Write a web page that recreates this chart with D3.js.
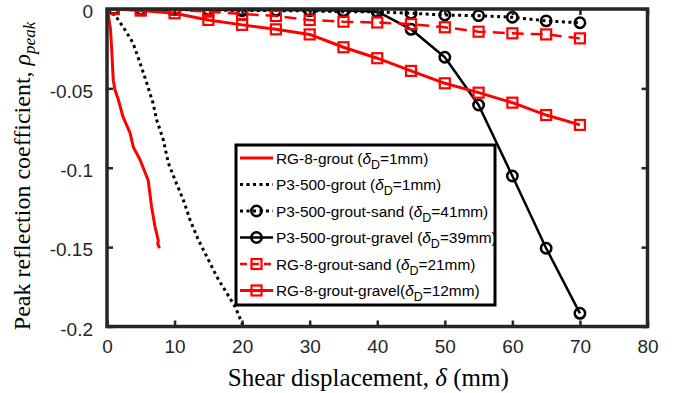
<!DOCTYPE html>
<html>
<head>
<meta charset="utf-8">
<script src="https://cdn.jsdelivr.net/npm/d3@7"></script>
<style>
  body { margin: 0; background: #fff; }
  svg { display: block; }
</style>
</head>
<body>
<script>
// shear displacement (mm) where the markers sit
var shearSteps = [1, 5, 10, 15, 20, 25, 30, 35, 40, 45, 50, 55, 60, 65, 70];

var p3SandRho   = [0, 0, -0.0005, -0.0005, -0.001, -0.001, -0.0012, -0.0017, -0.0018, -0.0027, -0.0038, -0.0042, -0.0052, -0.0075, -0.0087];
var p3GravelRho = [0, -0.0004, -0.0004, -0.0005, -0.0006, -0.0007, -0.0008, -0.001, -0.0015, -0.0128, -0.0304, -0.0605, -0.1052, -0.1507, -0.1917];
var rgSandRho   = [0, -0.0002, -0.0005, -0.0017, -0.0031, -0.0044, -0.0069, -0.008, -0.0085, -0.0095, -0.0115, -0.0143, -0.0153, -0.016, -0.0185];
var rgGravelRho = [0, -0.001, -0.0027, -0.0069, -0.010, -0.0128, -0.016, -0.0241, -0.031, -0.039, -0.0468, -0.0527, -0.059, -0.0668, -0.073];

// continuous curves without markers
var rgGroutShear = [0, 0.15, 0.52, 0.7, 0.93, 1.19, 1.67, 2.37, 3.41, 3.9, 4.89, 6.1, 6.6, 7.1, 7.6, 7.5, 7.75];
var rgGroutRho   = [0, -0.0025, -0.013, -0.026, -0.045, -0.051, -0.057, -0.068, -0.078, -0.087, -0.095, -0.108, -0.1245, -0.137, -0.146, -0.1475, -0.1507];

var p3GroutShear = [0, 1.19, 2.67, 3.85, 4.89, 5.88, 6.81, 7.36, 8.34, 9.08, 10.07, 11.3, 12.3, 13.53, 14.77, 16.25, 17.73, 18.96, 20.2];
var p3GroutRho   = [0, -0.0038, -0.0132, -0.0214, -0.034, -0.0466, -0.0592, -0.0699, -0.0825, -0.097, -0.1077, -0.1203, -0.1329, -0.1455, -0.156, -0.1686, -0.179, -0.1875, -0.2001];

var legendNames = ["RG-8-grout ", "P3-500-grout ", "P3-500-grout-sand ", "P3-500-grout-gravel ", "RG-8-grout-sand ", "RG-8-grout-gravel"];
var legendDepth = ["1mm", "1mm", "41mm", "39mm", "21mm", "12mm"];

var xTicks = [0, 10, 20, 30, 40, 50, 60, 70, 80];
var yTicks = [0, -0.05, -0.1, -0.15, -0.2];

var W = 687, H = 393;
var margin = {top: 9, right: 39.5, bottom: 66.5, left: 107};
var w = W - margin.left - margin.right,
    h = H - margin.top - margin.bottom;

var frameColor = "#262626";

var svg = d3.select("body").append("svg")
  .attr("width", W)
  .attr("height", H);

var x = d3.scaleLinear().domain([0, 80]).range([0, w]);
var y = d3.scaleLinear().domain([-0.2, 0]).range([h, 0]);

var g = svg.append("g")
  .attr("transform", "translate(" + margin.left + "," + margin.top + ")");

g.append("clipPath").attr("id", "plotClip")
  .append("rect").attr("width", w).attr("height", h);

function zipSeries(xs, ys) {
  return xs.map(function(d, i) { return [d, ys[i]]; });
}

var series = [
  {data: zipSeries(rgGroutShear, rgGroutRho), color: "#ff0000", width: 3, dash: null, marker: null},
  {data: zipSeries(p3GroutShear, p3GroutRho), color: "#000", width: 3, dash: "3,3.5", marker: null},
  {data: zipSeries(shearSteps, p3SandRho), color: "#000", width: 3, dash: "3,3.5", marker: "circle"},
  {data: zipSeries(shearSteps, p3GravelRho), color: "#000", width: 2.5, dash: null, marker: "circle"},
  {data: zipSeries(shearSteps, rgSandRho), color: "#ff0000", width: 2.5, dash: "12,7", marker: "square"},
  {data: zipSeries(shearSteps, rgGravelRho), color: "#ff0000", width: 3, dash: null, marker: "square"}
];

var line = d3.line()
  .x(function(d) { return x(d[0]); })
  .y(function(d) { return y(d[1]); });

var plot = g.append("g").attr("clip-path", "url(#plotClip)");

function drawMarker(sel, type, color) {
  if (type == "circle") {
    sel.append("circle")
      .attr("r", 5.2)
      .attr("fill", "none")
      .attr("stroke", color)
      .attr("stroke-width", 2.5);
  } else if (type == "square") {
    sel.append("rect")
      .attr("x", -5).attr("y", -5)
      .attr("width", 10).attr("height", 10)
      .attr("fill", "none")
      .attr("stroke", color)
      .attr("stroke-width", 2.2);
  }
}

series.forEach(function(s) {
  plot.append("path")
    .datum(s.data)
    .attr("d", line)
    .attr("fill", "none")
    .attr("stroke", s.color)
    .attr("stroke-width", s.width)
    .attr("stroke-dasharray", s.dash)
    .attr("stroke-linejoin", "round");

  if (s.marker) {
    plot.selectAll(null)
      .data(s.data)
      .enter().append("g")
      .attr("transform", function(d) { return "translate(" + x(d[0]) + "," + y(d[1]) + ")"; })
      .each(function() { drawMarker(d3.select(this), s.marker, s.color); });
  }
});

// axes: ticks inward on all four sides (box on)
var tickLen = 6;
g.append("g")
  .attr("transform", "translate(0," + h + ")")
  .call(d3.axisBottom(x).tickValues(xTicks).tickSizeInner(-tickLen).tickSizeOuter(0).tickPadding(13))
  .call(function(a) {
    a.select(".domain").remove();
    a.selectAll("line").attr("stroke", frameColor).attr("stroke-width", 2.5);
    a.selectAll("text").attr("fill", frameColor).attr("font-family", "'Liberation Sans', Arial, sans-serif").attr("font-size", 19);
  });

g.append("g")
  .call(d3.axisTop(x).tickValues(xTicks).tickSizeInner(-tickLen).tickSizeOuter(0).tickFormat(""))
  .call(function(a) {
    a.select(".domain").remove();
    a.selectAll("line").attr("stroke", frameColor).attr("stroke-width", 2.5);
  });

g.append("g")
  .call(d3.axisLeft(y).tickValues(yTicks).tickSizeInner(-tickLen).tickSizeOuter(0).tickPadding(14)
    .tickFormat(function(d) { return d == 0 ? "0" : d3.format("")(d).replace("−", "-"); }))
  .call(function(a) {
    a.select(".domain").remove();
    a.selectAll("line").attr("stroke", frameColor).attr("stroke-width", 2.5);
    a.selectAll("text").attr("fill", frameColor).attr("font-family", "'Liberation Sans', Arial, sans-serif").attr("font-size", 19).attr("dy", "0.46em");
  });

g.append("g")
  .attr("transform", "translate(" + w + ",0)")
  .call(d3.axisRight(y).tickValues(yTicks).tickSizeInner(-tickLen).tickSizeOuter(0).tickFormat(""))
  .call(function(a) {
    a.select(".domain").remove();
    a.selectAll("line").attr("stroke", frameColor).attr("stroke-width", 2.5);
  });

// frame
g.append("rect")
  .attr("width", w).attr("height", h)
  .attr("fill", "none")
  .attr("stroke", frameColor)
  .attr("stroke-width", 3.5);

// axis titles
svg.append("text")
  .attr("x", margin.left + w / 2 - 9)
  .attr("y", 386)
  .attr("text-anchor", "middle")
  .attr("font-family", "'Liberation Serif', 'Times New Roman', serif")
  .attr("font-size", 25)
  .attr("fill", "#000")
  .call(function(t) {
    t.append("tspan").text("Shear displacement, ");
    t.append("tspan").attr("font-style", "italic").text("δ");
    t.append("tspan").text(" (mm)");
  });

svg.append("text")
  .attr("transform", "translate(30,176) rotate(-90)")
  .attr("text-anchor", "middle")
  .attr("font-family", "'Liberation Serif', 'Times New Roman', serif")
  .attr("font-size", 24)
  .attr("fill", "#000")
  .call(function(t) {
    t.append("tspan").text("Peak reflection coefficient, ");
    t.append("tspan").attr("font-style", "italic").text("ρ");
    t.append("tspan").attr("font-style", "italic").attr("font-size", 17).attr("dy", 5).text("peak");
  });

// legend
var legend = svg.append("g").attr("transform", "translate(236,145)");
legend.append("rect")
  .attr("width", 259).attr("height", 160)
  .attr("fill", "#fff")
  .attr("stroke", "#000")
  .attr("stroke-width", 3);

var rows = legend.selectAll(".legend-row")
  .data(series)
  .enter().append("g")
  .attr("class", "legend-row")
  .attr("transform", function(d, i) { return "translate(0," + (13 + i * 26.5) + ")"; });

rows.append("line")
  .attr("x1", 4).attr("x2", 37)
  .attr("stroke", function(d) { return d.color; })
  .attr("stroke-width", function(d) { return d.width; })
  .attr("stroke-dasharray", function(d) { return d.dash == "12,7" ? "7,5" : d.dash; });

rows.each(function(d) {
  if (d.marker) {
    var m = d3.select(this).append("g").attr("transform", "translate(20.5,0)");
    drawMarker(m, d.marker, d.color);
  }
});

rows.append("text")
  .attr("x", 40)
  .attr("y", 5.5)
  .attr("font-family", "'Liberation Sans', Arial, sans-serif")
  .attr("font-size", 15.4)
  .attr("fill", "#000")
  .each(function(d, i) {
    var t = d3.select(this);
    t.append("tspan").text(legendNames[i] + "(");
    t.append("tspan").attr("font-style", "italic").text("δ");
    t.append("tspan").attr("font-size", 12.5).attr("dy", 5).text("D");
    t.append("tspan").attr("dy", -5).text("=" + legendDepth[i] + ")");
  });
</script>
</body>
</html>
